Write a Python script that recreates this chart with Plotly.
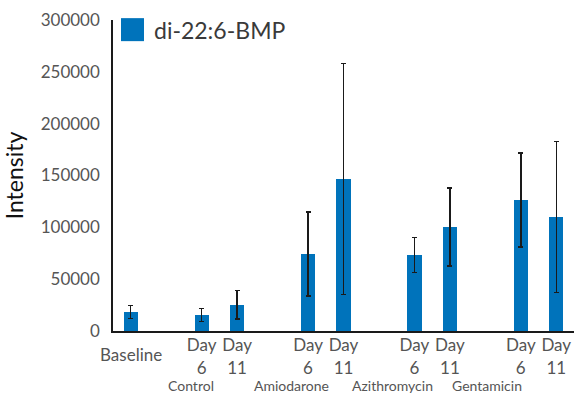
import plotly.graph_objects as go

# Data
categories = ["Baseline", "Control Day 6", "Control Day 11", "Amiodarone Day 6", "Amiodarone Day 11",
              "Azithromycin Day 6", "Azithromycin Day 11", "Gentamicin Day 6", "Gentamicin Day 11"]
positions = [0, 2, 3, 5, 6, 8, 9, 11, 12]
tick_labels = ["", "Day<br>6", "Day<br>11", "Day<br>6", "Day<br>11", "Day<br>6", "Day<br>11", "Day<br>6", "Day<br>11"]
values = [18300, 15400, 25400, 74300, 146600, 73300, 100300, 126400, 110000]
errors = [6100, 6200, 13600, 40300, 111400, 16700, 37700, 45500, 72700]
groups = ["Control", "Amiodarone", "Azithromycin", "Gentamicin"]
group_pos = [1.7, 4.52, 7.37, 10.05]
series_name = "di-22:6-BMP"

FONT = "Lato"
BLUE = "#0073BB"

fig = go.Figure()
fig.add_trace(go.Bar(
    x=positions, y=values, width=0.4, name=series_name,
    marker=dict(color=BLUE, line=dict(width=0)),
    error_y=dict(type="data", array=errors, visible=True, color="#1a1a1a", thickness=1.5, width=2.5),
    showlegend=False,
))

annotations = [
    dict(x=0, y=-0.074, xref="x", yref="paper", text="Baseline", showarrow=False,
         xanchor="center", yanchor="middle", font=dict(family=FONT, size=17, color="#555555")),
]
for g, p in zip(groups, group_pos):
    annotations.append(dict(x=p, y=-0.176, xref="x", yref="paper", text=g, showarrow=False,
                            xanchor="center", yanchor="middle", borderpad=0,
                            font=dict(family=FONT, size=14, color="#555555")))
# legend label
annotations.append(dict(x=0.0868, y=0.968, xref="paper", yref="paper", text=series_name, showarrow=False,
                        xanchor="left", yanchor="middle", borderpad=0,
                        font=dict(family=FONT, size=23, color="#3a3a3a")))

fig.update_layout(
    width=578, height=394,
    margin=dict(l=113, r=4, t=20, b=63),
    paper_bgcolor="white", plot_bgcolor="white",
    font=dict(family=FONT, color="#555555"),
    bargap=0,
    annotations=annotations,
    shapes=[dict(type="rect", xref="paper", yref="paper", x0=0.0174, x1=0.0672, y0=0.932, y1=1.006,
                 fillcolor=BLUE, line=dict(width=0))],
    xaxis=dict(range=[-0.5, 12.5], tickvals=positions, ticktext=tick_labels,
               tickfont=dict(family=FONT, size=17, color="#555555"),
               showline=True, linecolor="#1a1a1a", linewidth=2, showgrid=False, zeroline=False,
               ticks="", ticklabelstandoff=-2, fixedrange=True),
    yaxis=dict(range=[0, 300000], tickvals=[0, 50000, 100000, 150000, 200000, 250000, 300000],
               ticktext=["0", "50000", "100000", "150000", "200000", "250000", "300000"],
               tickfont=dict(family=FONT, size=17, color="#555555"),
               showline=True, linecolor="#1a1a1a", linewidth=1.5, showgrid=False, zeroline=False,
               ticks="", ticklabelstandoff=8,
               title=dict(text="Intensity", font=dict(family=FONT, size=23, color="#111111"), standoff=12)),
)

fig.write_html("out.html", config={"displayModeBar": False},
               post_script="document.body.style.margin='0';document.body.style.padding='0';")
